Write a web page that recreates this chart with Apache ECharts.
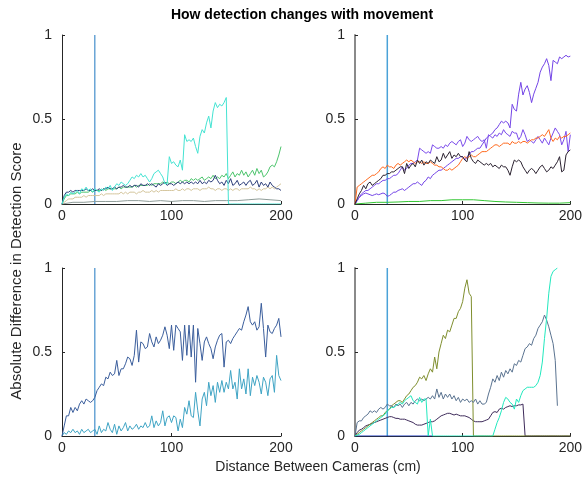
<!DOCTYPE html>
<html><head><meta charset="utf-8">
<script src="https://cdn.jsdelivr.net/npm/echarts@6/dist/echarts.min.js"></script>
<style>html,body{margin:0;padding:0;background:#fff}#c{width:585px;height:483px}</style>
</head><body><div id="c"></div>
<script>
// ---------- DATA ----------
const titleText = 'How detection changes with movement';
const yLabelText = 'Absolute Difference in Detection Score';
const xLabelText = 'Distance Between Cameras (cm)';
const xTicks = [0, 100, 200];
const yTicks = [0, 0.5, 1];
const markerX = 30;

// sampling grids (cm)
const X2 = Array.from({length: 101}, (_, i) => i * 2);
const X10 = Array.from({length: 21}, (_, i) => i * 10);

// Top-left panel
const tlCyan = [
 0,0.04,0.06,0.05,0.07,0.06,0.07,0.08,0.06,0.09,
 0.08,0.10,0.08,0.09,0.07,0.09,0.08,0.07,0.09,0.08,
 0.10,0.09,0.11,0.08,0.10,0.12,0.11,0.13,0.12,0.11,
 0.12,0.14,0.16,0.15,0.17,0.16,0.18,0.16,0.17,0.15,
 0.13,0.15,0.18,0.19,0.20,0.18,0.16,0.12,0.12,0.28,
 0.24,0.25,0.23,0.22,0.26,0.20,0.41,0.37,0.38,0.37,
 0.39,0.34,0.30,0.40,0.44,0.42,0.48,0.52,0.45,0.55,
 0.60,0.57,0.59,0.58,0.60,0.63,0,0,0,0,
 0,0,0,0,0,0,0,0,0,0,
 0,0,0,0,0,0,0,0,0,0,
 0];
const tlGreen = [
 0,0.03,0.05,0.05,0.06,0.06,0.06,0.07,0.06,0.07,
 0.07,0.07,0.07,0.08,0.07,0.08,0.08,0.08,0.08,0.09,
 0.08,0.09,0.09,0.09,0.09,0.09,0.10,0.09,0.10,0.10,
 0.10,0.10,0.10,0.11,0.10,0.11,0.11,0.11,0.11,0.11,
 0.12,0.11,0.12,0.12,0.12,0.12,0.13,0.12,0.13,0.12,
 0.13,0.13,0.12,0.13,0.14,0.13,0.14,0.14,0.13,0.15,
 0.14,0.15,0.14,0.15,0.16,0.14,0.15,0.16,0.15,0.17,
 0.15,0.16,0.15,0.17,0.16,0.18,0.15,0.17,0.19,0.16,
 0.18,0.17,0.20,0.17,0.19,0.16,0.18,0.20,0.17,0.21,
 0.18,0.20,0.16,0.17,0.19,0.22,0.23,0.22,0.25,0.29,
 0.34];
const tlNavy = [
 0,0.05,0.07,0.07,0.08,0.07,0.08,0.08,0.08,0.08,
 0.08,0.09,0.08,0.08,0.09,0.08,0.08,0.09,0.08,0.09,
 0.09,0.10,0.09,0.09,0.10,0.09,0.10,0.10,0.11,0.10,
 0.10,0.11,0.10,0.11,0.11,0.10,0.12,0.11,0.11,0.12,
 0.11,0.12,0.11,0.10,0.12,0.11,0.12,0.13,0.11,0.12,
 0.12,0.11,0.12,0.13,0.12,0.13,0.12,0.13,0.12,0.13,
 0.12,0.13,0.12,0.14,0.12,0.13,0.12,0.14,0.13,0.14,
 0.17,0.14,0.12,0.13,0.11,0.14,0.12,0.15,0.11,0.12,
 0.14,0.11,0.12,0.13,0.11,0.13,0.14,0.11,0.12,0.14,
 0.10,0.13,0.11,0.12,0.10,0.13,0.11,0.10,0.09,0.09,
 0.08];
const tlTan = [
 0,0.01,0.02,0.03,0.03,0.03,0.04,0.04,0.04,0.04,
 0.05,0.04,0.05,0.05,0.05,0.05,0.05,0.05,0.06,0.05,
 0.06,0.06,0.06,0.06,0.06,0.06,0.06,0.07,0.06,0.07,
 0.06,0.07,0.07,0.07,0.06,0.07,0.07,0.08,0.07,0.07,
 0.07,0.08,0.07,0.08,0.07,0.08,0.08,0.08,0.08,0.08,
 0.08,0.08,0.09,0.08,0.08,0.09,0.08,0.09,0.09,0.08,
 0.09,0.09,0.09,0.08,0.09,0.09,0.09,0.10,0.09,0.09,
 0.08,0.09,0.09,0.08,0.09,0.09,0.08,0.09,0.08,0.09,
 0.09,0.08,0.09,0.09,0.09,0.09,0.10,0.09,0.09,0.08,
 0.09,0.08,0.09,0.09,0.10,0.09,0.10,0.09,0.10,0.11,
 0.12];
const tlGray = [0,0.01,0.01,0.015,0.015,0.015,0.02,0.02,0.015,0.02,0.015,0.02,0.02,0.015,0.02,0.02,0.02,0.025,0.03,0.025,0.02];

// Top-right panel
const trPurpleA = [
 0,0.02,0.04,0.05,0.06,0.065,0.06,0.055,0.05,0.055,
 0.06,0.055,0.06,0.065,0.06,0.045,0.05,0.06,0.07,0.07,
 0.08,0.085,0.09,0.08,0.09,0.10,0.11,0.12,0.12,0.13,
 0.12,0.11,0.13,0.14,0.16,0.15,0.17,0.18,0.19,0.20,
 0.20,0.21,0.22,0.23,0.24,0.25,0.26,0.27,0.27,0.28,
 0.28,0.26,0.28,0.29,0.31,0.31,0.32,0.33,0.33,0.35,
 0.37,0.39,0.40,0.41,0.42,0.44,0.45,0.47,0.49,0.48,
 0.49,0.48,0.45,0.59,0.56,0.55,0.65,0.72,0.645,0.68,
 0.70,0.66,0.60,0.65,0.685,0.72,0.78,0.81,0.83,0.86,
 0.82,0.73,0.85,0.84,0.83,0.87,0.86,0.87,0.88,0.87,
 0.875];
const trPurpleB = [
 0,0.02,0.04,0.06,0.07,0.08,0.08,0.09,0.10,0.11,
 0.12,0.12,0.13,0.14,0.14,0.15,0.15,0.16,0.17,0.17,
 0.18,0.20,0.22,0.20,0.21,0.23,0.24,0.24,0.25,0.26,
 0.33,0.32,0.31,0.30,0.31,0.30,0.35,0.34,0.33,0.33,
 0.34,0.33,0.35,0.34,0.36,0.37,0.36,0.35,0.37,0.38,
 0.34,0.36,0.40,0.38,0.37,0.38,0.39,0.40,0.38,0.37,
 0.38,0.33,0.41,0.40,0.39,0.41,0.40,0.42,0.41,0.44,
 0.42,0.41,0.40,0.43,0.42,0.42,0.38,0.40,0.44,0.41,
 0.37,0.38,0.37,0.36,0.38,0.40,0.38,0.36,0.39,0.37,
 0.35,0.39,0.42,0.45,0.43,0.41,0.35,0.38,0.43,0.31,
 0.41];
const trOrange = [
 0,0.10,0.11,0.12,0.13,0.14,0.15,0.16,0.17,0.17,
 0.18,0.19,0.21,0.22,0.21,0.23,0.22,0.22,0.21,0.23,
 0.24,0.23,0.24,0.25,0.26,0.25,0.26,0.25,0.24,0.25,
 0.25,0.24,0.25,0.24,0.24,0.25,0.24,0.23,0.23,0.22,
 0.22,0.21,0.20,0.20,0.21,0.20,0.21,0.22,0.23,0.25,
 0.27,0.28,0.27,0.28,0.29,0.28,0.28,0.29,0.30,0.31,
 0.31,0.31,0.32,0.33,0.34,0.35,0.35,0.34,0.35,0.36,
 0.36,0.36,0.35,0.37,0.36,0.36,0.37,0.36,0.37,0.37,
 0.36,0.37,0.38,0.38,0.39,0.39,0.40,0.41,0.40,0.42,
 0.44,0.39,0.37,0.39,0.38,0.40,0.39,0.40,0.40,0.41,
 0.42];
const trBlack = [
 0,0.03,0.06,0.08,0.11,0.09,0.12,0.13,0.11,0.12,
 0.13,0.14,0.15,0.17,0.17,0.18,0.18,0.19,0.19,0.20,
 0.21,0.22,0.22,0.18,0.24,0.21,0.23,0.24,0.22,0.26,
 0.24,0.26,0.23,0.25,0.24,0.26,0.25,0.24,0.28,0.25,
 0.26,0.30,0.27,0.29,0.31,0.27,0.29,0.28,0.30,0.28,
 0.28,0.26,0.25,0.31,0.27,0.25,0.24,0.26,0.25,0.24,
 0.23,0.24,0.23,0.24,0.22,0.23,0.22,0.21,0.23,0.22,
 0.22,0.20,0.17,0.22,0.26,0.25,0.26,0.25,0.22,0.20,
 0.18,0.20,0.21,0.20,0.18,0.20,0.22,0.23,0.21,0.19,
 0.20,0.22,0.21,0.23,0.25,0.28,0.19,0.20,0.29,0.31,
 0.32];
const trGreen = [0,0.005,0.01,0.01,0.012,0.015,0.015,0.02,0.02,0.025,0.025,0.025,0.02,0.015,0.012,0.01,0.008,0.006,0.005,0.005,0.008];

// Bottom-left panel
const blDark = [
 0,0.06,0.12,0.12,0.17,0.14,0.17,0.15,0.19,0.21,
 0.19,0.22,0.21,0.20,0.21,0.23,0.27,0.29,0.31,0.30,
 0.35,0.34,0.38,0.36,0.37,0.45,0.36,0.40,0.40,0.43,
 0.47,0.46,0.42,0.48,0.63,0.44,0.56,0.55,0.52,0.53,
 0.61,0.56,0.53,0.59,0.55,0.57,0.60,0.65,0.60,0.52,
 0.66,0.51,0.66,0.64,0.62,0.45,0.66,0.48,0.66,0.47,
 0.66,0.32,0.64,0.55,0.45,0.56,0.59,0.55,0.52,0.46,
 0.53,0.57,0.60,0.61,0.41,0.56,0.57,0.55,0.58,0.60,
 0.62,0.64,0.63,0.68,0.72,0.77,0.68,0.66,0.68,0.63,
 0.65,0.79,0.64,0.47,0.66,0.62,0.61,0.64,0.66,0.70,
 0.59];
const blTeal = [
 0,0.02,0.01,0.03,0.02,0.04,0.02,0.03,0.01,0.04,
 0.02,0.03,0.04,0.02,0.03,0.04,0.01,0.06,0.02,0.04,
 0.03,0.08,0.04,0.02,0.07,0.01,0.06,0.03,0.05,0.08,
 0.03,0.06,0.04,0.05,0.07,0.04,0.06,0.05,0.08,0.05,
 0.06,0.12,0.05,0.09,0.06,0.08,0.15,0.06,0.11,0.12,
 0.08,0.12,0.11,0.03,0.10,0.05,0.17,0.13,0.21,0.12,
 0.11,0.26,0.15,0.06,0.22,0.26,0.18,0.32,0.24,0.30,
 0.20,0.32,0.26,0.33,0.26,0.32,0.28,0.39,0.28,0.32,
 0.22,0.40,0.28,0.34,0.25,0.40,0.24,0.35,0.30,0.36,
 0.32,0.25,0.35,0.32,0.24,0.34,0.36,0.26,0.48,0.36,
 0.33];

// Bottom-right panel
const brOlive = [
 0,0.01,0.02,0.03,0.04,0.05,0.06,0.07,0.08,0.09,
 0.10,0.11,0.12,0.12,0.14,0.15,0.16,0.18,0.19,0.20,
 0.21,0.21,0.20,0.22,0.24,0.25,0.27,0.29,0.30,0.32,
 0.35,0.34,0.36,0.33,0.37,0.40,0.38,0.47,0.40,0.50,
 0.55,0.60,0.58,0.63,0.62,0.66,0.70,0.70,0.74,0.76,
 0.80,0.88,0.93,0.85,0.83,0,0,0,0,0,
 0,0,0,0,0,0,0,0,0,0,
 0,0,0,0,0,0,0,0,0,0,
 0,0,0,0,0,0,0,0,0,0,
 0,0,0,0,0,0,0,0,0,0,
 0];
const brSlate = [
 0,0.08,0.09,0.09,0.11,0.12,0.13,0.15,0.14,0.15,
 0.14,0.16,0.17,0.16,0.17,0.19,0.18,0.18,0.17,0.19,
 0.18,0.19,0.17,0.19,0.20,0.18,0.20,0.19,0.21,0.22,
 0.21,0.22,0.21,0.22,0.23,0.22,0.24,0.22,0.28,0.23,
 0.26,0.22,0.25,0.23,0.25,0.22,0.24,0.21,0.23,0.20,
 0.22,0.21,0.22,0.20,0.21,0.20,0.22,0.19,0.21,0.19,
 0.19,0.20,0.25,0.29,0.34,0.32,0.36,0.33,0.38,0.35,
 0.39,0.37,0.40,0.38,0.43,0.42,0.45,0.44,0.48,0.52,
 0.53,0.55,0.54,0.58,0.60,0.64,0.66,0.68,0.72,0.69,
 0.65,0.60,0.55,0.45,0.18];
const brAqua = [
 0,0.005,0.01,0.02,0.03,0.04,0.05,0.06,0.07,0.08,
 0.09,0.10,0.11,0.12,0.13,0.15,0.16,0.17,0.17,0.18,
 0.19,0.20,0.19,0.21,0.22,0.23,0.24,0.21,0.20,0.19,
 0.23,0.20,0.22,0.22,0,0.10,0,0,0,0,
 0,0,0,0,0,0,0,0,0,0,
 0,0,0,0,0,0,0,0,0,0,
 0,0,0,0,0,0.04,0.08,0.11,0.15,0.20,
 0.23,0.22,0.20,0.19,0.16,0.22,0.20,0.24,0.27,0.28,
 0.29,0.29,0.29,0.29,0.30,0.32,0.36,0.44,0.58,0.70,
 0.85,0.95,0.98,0.99,1.0];
const brPurple = [
 0,0.02,0.035,0.04,0.05,0.06,0.065,0.07,0.075,0.08,
 0.085,0.09,0.095,0.10,0.105,0.11,0.115,0.115,0.11,0.105,
 0.105,0.10,0.10,0.10,0.095,0.09,0.085,0.08,0.07,0.065,
 0.065,0.065,0.07,0.075,0.08,0.085,0.085,0.09,0.10,0.11,
 0.12,0.125,0.13,0.135,0.135,0.13,0.125,0.13,0.125,0.12,
 0.12,0.12,0.115,0.11,0.10,0.09,0.085,0.085,0.085,0.085,
 0.09,0.095,0.10,0.12,0.14,0.145,0.14,0.16,0.165,0.16,
 0.17,0.175,0.18,0.175,0.18,0.18,0.185,0.185,0.19,0,
 0,0,0,0,0,0,0,0,0,0,
 0,0,0,0,0,0,0,0,0,0,
 0];
const brBlueX = [0, 72];
const brBlue = [0, 0];

// ---------- CHART ----------
const FONT = "'Liberation Sans', Arial, Helvetica, sans-serif";
const INK = '#262626';
const pairs = (xs, ys) => ys.map((y, i) => [xs[i], y]);

const grids = [
  {left: 62, top: 35, width: 219, height: 169},
  {left: 355, top: 35, width: 219, height: 169},
  {left: 62, top: 268, width: 219, height: 168},
  {left: 355, top: 268, width: 219, height: 168}
];
const xAxes = grids.map((g, i) => ({
  type: 'value', gridIndex: i, min: xTicks[0], max: xTicks[xTicks.length - 1], interval: 100,
  axisLine: {show: true, onZero: false, lineStyle: {color: INK, width: 1}},
  axisTick: {show: true, inside: true, length: 3, lineStyle: {color: INK}},
  axisLabel: {fontSize: 14, color: INK, fontFamily: FONT, margin: 5},
  splitLine: {show: false}
}));
const yAxes = grids.map((g, i) => ({
  type: 'value', gridIndex: i, min: yTicks[0], max: yTicks[yTicks.length - 1], interval: 0.5,
  axisLine: {show: true, onZero: false, lineStyle: {color: (i % 2) ? '#8a8a8a' : INK, width: (i % 2) ? 2 : 1}},
  axisTick: {show: true, inside: true, length: 3, lineStyle: {color: INK}},
  axisLabel: {fontSize: 14, color: INK, fontFamily: FONT, margin: 10},
  splitLine: {show: false}
}));

function line(gi, data, color, z) {
  return {type: 'line', xAxisIndex: gi, yAxisIndex: gi, data: data, showSymbol: false, symbol: 'none',
    lineStyle: {color: color, width: 1}, itemStyle: {color: color}, z: z || 2, animation: false, silent: true};
}
function vline(gi, color, w) {
  return {type: 'line', xAxisIndex: gi, yAxisIndex: gi, data: [[markerX, yTicks[0]], [markerX, yTicks[2]]],
    showSymbol: false, symbol: 'none', lineStyle: {color: color, width: w}, z: 1, animation: false, silent: true};
}

const series = [
  vline(0, '#1f77c0', 1),
  line(0, pairs(X10, tlGray), '#8e9c98'),
  line(0, pairs(X2, tlTan), '#d4c59c'),
  line(0, pairs(X2, tlGreen), '#4cc46c'),
  line(0, pairs(X2, tlNavy), '#2e3f7a'),
  line(0, pairs(X2, tlCyan), '#44e3d2'),

  vline(1, '#4aa2d8', 1.5),
  line(1, pairs(X10, trGreen), '#33c633'),
  line(1, pairs(X2, trPurpleA), '#7345e6'),
  line(1, pairs(X2, trPurpleB), '#7a4aea'),
  line(1, pairs(X2, trOrange), '#ff6a1f'),
  line(1, pairs(X2, trBlack), '#2b2230'),

  vline(2, '#1f77c0', 1),
  line(2, pairs(X2, blTeal), '#3fa4c4'),
  line(2, pairs(X2, blDark), '#3b5e9c'),

  vline(3, '#4aa2d8', 1.5),
  line(3, pairs(brBlueX, brBlue), '#1e3cc0'),
  line(3, pairs(X2, brPurple), '#3e2b5a'),
  line(3, pairs(X2, brOlive), '#7f8e2e'),
  line(3, pairs(X2, brSlate), '#5a7390'),
  line(3, pairs(X2, brAqua), '#22e8be')
];

const chart = echarts.init(document.getElementById('c'), null, {renderer: 'canvas'});
chart.setOption({
  animation: false,
  backgroundColor: '#ffffff',
  grid: grids,
  xAxis: xAxes,
  yAxis: yAxes,
  series: series,
  graphic: [
    {type: 'text', x: 302, y: 15, style: {text: titleText, fontSize: 14, fontWeight: 'bold', fontFamily: FONT, fill: '#000', textAlign: 'center', textVerticalAlign: 'middle'}},
    {type: 'text', x: 17, y: 271, rotation: Math.PI / 2, style: {text: yLabelText, fontSize: 15, fontFamily: FONT, fill: INK, textAlign: 'center', textVerticalAlign: 'middle'}},
    {type: 'text', x: 318, y: 467, style: {text: xLabelText, fontSize: 14, fontFamily: FONT, fill: INK, textAlign: 'center', textVerticalAlign: 'middle'}}
  ]
});
</script>
</body></html>
